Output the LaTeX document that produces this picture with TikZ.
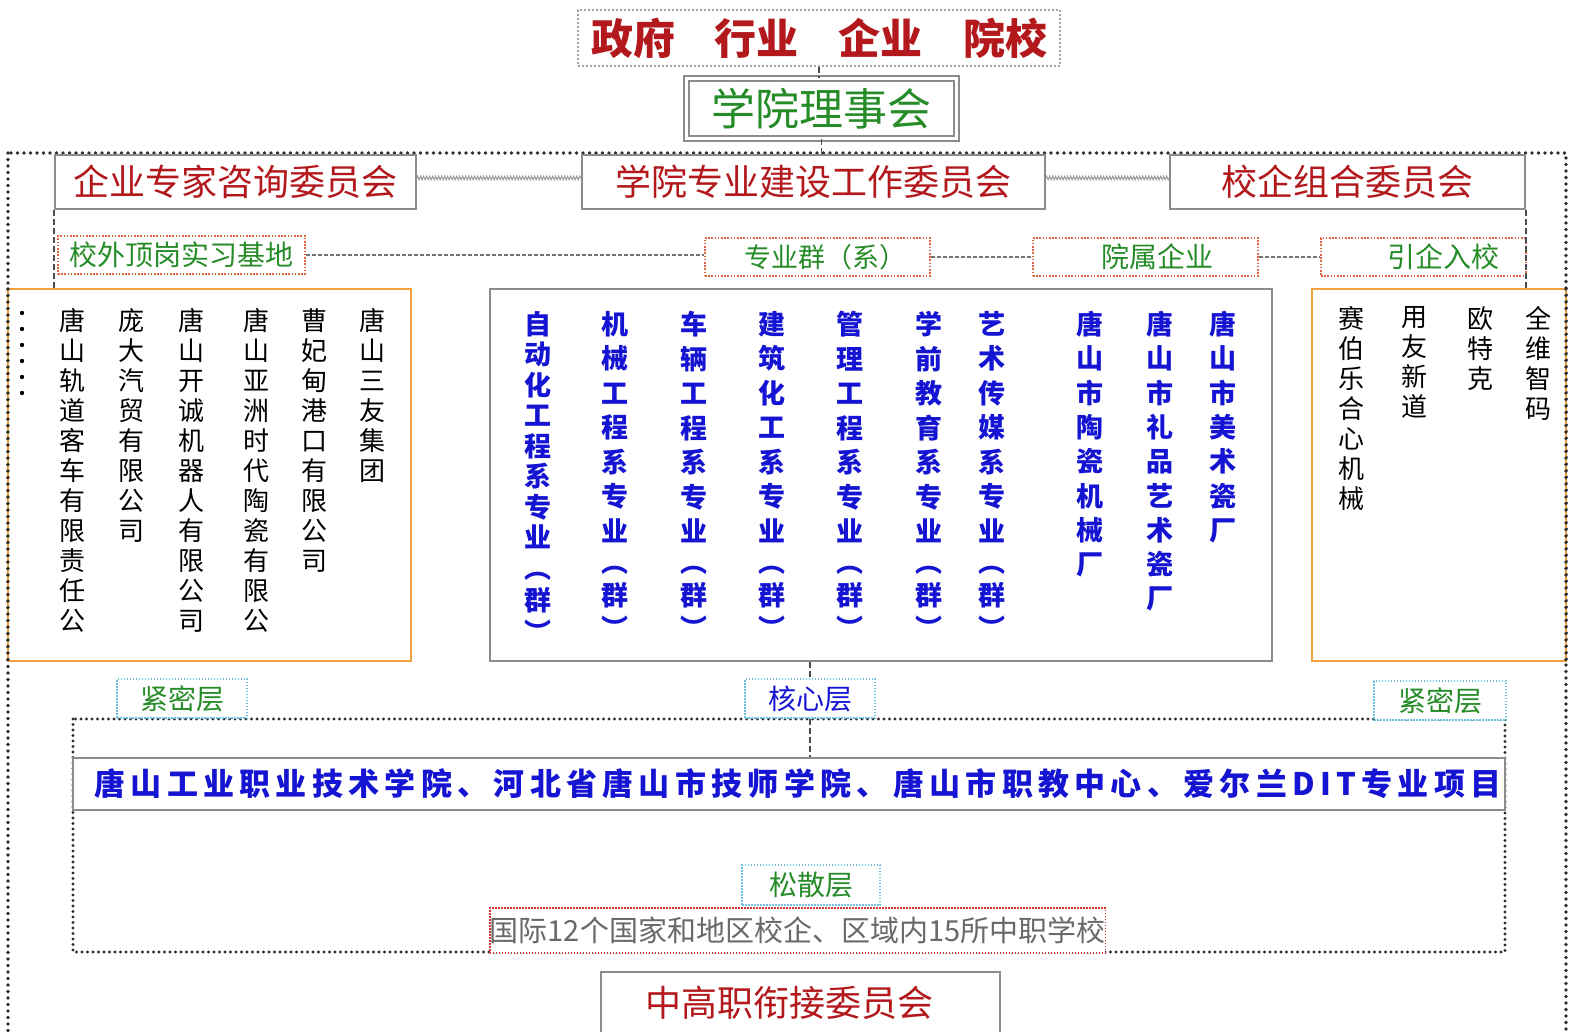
\documentclass[tikz,border=0pt]{standalone}
\usepackage{fontspec}
\setmainfont{Noto Sans CJK SC}
\usetikzlibrary{calc,decorations.pathmorphing}
\definecolor{dred}{RGB}{178,24,28}
\definecolor{dgreen}{RGB}{38,140,40}
\definecolor{dblue}{RGB}{20,20,210}
\definecolor{bgray}{RGB}{140,140,140}
\definecolor{tgray}{RGB}{105,105,105}
\definecolor{orng}{RGB}{240,160,60}
\definecolor{ored}{RGB}{225,100,60}
\definecolor{rdot}{RGB}{215,50,50}
\definecolor{lblue}{RGB}{110,190,225}
\definecolor{dotc}{RGB}{45,45,45}
\newcommand\fs[1]{\fontsize{#1bp}{#1bp}\selectfont}
\makeatletter
\newcommand\vcol[2]{\vbox{\baselineskip=#1\lineskiplimit=-1000pt\relax\@tfor\vc:=#2\do{\hbox to 1.1em{\hss\vc\hss}}}}
\newcommand\spreadtext[2]{\@tfor\vc:=#2\do{\vc\kern#1}\unkern}
\makeatother
\begin{document}
\begin{tikzpicture}[x=1bp,y=-1bp,
  box/.style={draw=bgray,line width=1.8bp,fill=white,inner sep=0pt},
  obox/.style={draw=orng,line width=2bp,fill=white,inner sep=0pt},
  tagbox/.style={draw=ored,line width=1.6bp,dash pattern=on 1.6bp off 1.6bp,fill=white,inner sep=0pt},
  laybox/.style={draw=lblue,line width=1.3bp,dash pattern=on 1.5bp off 1.5bp,fill=white,inner sep=0pt},
  govbox/.style={draw=bgray!80,line width=2bp,dash pattern=on 2bp off 2bp,fill=white,inner sep=0pt},
  bigdot/.style={draw=dotc,line width=3.8bp,dash pattern=on 0pt off 6.5bp,line cap=round},
  smalldot/.style={draw=dotc,line width=3.3bp,dash pattern=on 0pt off 5.5bp,line cap=round},
  vconn/.style={draw=black!70,line width=1.6bp,dash pattern=on 6bp off 3bp},
  hconn/.style={draw=black!55,line width=1.5bp,dash pattern=on 4bp off 2bp},
  zconn/.style={draw=black!40,line width=1bp,decorate,decoration={zigzag,amplitude=1.8bp,segment length=3bp}},
  vt/.style={anchor=north,inner sep=0pt}
]
\useasboundingbox (0,0) rectangle (1576,1031);
\clip (0,0) rectangle (1576,1031);
\fill[white] (0,0) rectangle (1576,1031);

% outer dotted frame
\draw[bigdot] (8,153) rectangle (1566,1060);

% top
\node[govbox,minimum width=482bp,minimum height=56bp] (gov) at (819,38)
  {\fs{42}\bfseries\color{dred}政府\hspace{40bp}行业\hspace{40bp}企业\hspace{40bp}院校};
\node[draw=bgray,double=white,double distance=3.5bp,line width=1.3bp,fill=white,inner sep=0pt,minimum width=270bp,minimum height=60bp] (board) at (821.5,108.5)
  {\fs{44}\color{dgreen}学院理事会};

% committees
\node[box,minimum width=361bp,minimum height=54bp] (ent) at (235.5,182) {\fs{36}\color{dred}企业专家咨询委员会};
\node[box,minimum width=463bp,minimum height=54bp] (work) at (813.5,182) {\fs{36}\color{dred}学院专业建设工作委员会};
\node[box,minimum width=355bp,minimum height=54bp] (combo) at (1347.5,182) {\fs{36}\color{dred}校企组合委员会};

% tag boxes
\node[tagbox,minimum width=247bp,minimum height=38bp] (base) at (181.5,255) {\fs{28}\color{dgreen}校外顶岗实习基地\hspace{19bp}};
\node[tagbox,minimum width=225bp,minimum height=38bp] (grp) at (817.5,257) {\fs{27}\color{dgreen}\hspace{15bp}专业群（系）};
\node[tagbox,minimum width=225bp,minimum height=38bp] (corp) at (1145.5,257) {\fs{28}\color{dgreen}\hspace{23bp}院属企业};
\node[tagbox,minimum width=205bp,minimum height=38bp] (intro) at (1423.5,257) {\fs{28}\color{dgreen}\hspace{40bp}引企入校};

% big boxes
\node[obox,minimum width=403bp,minimum height=372bp] (lbox) at (209.5,475) {};
\node[box,minimum width=782bp,minimum height=372bp] (mbox) at (881,475) {};
\node[obox,minimum width=254bp,minimum height=372bp] (rbox) at (1439,475) {};
\draw[bigdot] (8,289) -- (8,661);
\draw[bigdot] (1566,289) -- (1566,661);

% left box text
\node[vt] (l1) at (372,308) {\fs{26}\vcol{30bp}{唐山三友集团}};
\node[vt] (l2) at (314,308) {\fs{26}\vcol{30bp}{曹妃甸港口有限公司}};
\node[vt] (l3) at (256,308) {\fs{26}\vcol{30bp}{唐山亚洲时代陶瓷有限公}};
\node[vt] (l4) at (191,308) {\fs{26}\vcol{30bp}{唐山开诚机器人有限公司}};
\node[vt] (l5) at (131,308) {\fs{26}\vcol{30bp}{庞大汽贸有限公司}};
\node[vt] (l6) at (72,308) {\fs{26}\vcol{30bp}{唐山轨道客车有限责任公}};
\foreach \yy in {313,329,345,361,377,393} \fill[black] (22,\yy) circle (2.2bp);

% middle box text
\node[vt] (m1) at (538,311) {\fs{27}\bfseries\color{dblue}\vcol{30.5bp}{自动化工程系专业}};
\node[vt] (m2) at (615,311) {\fs{27}\bfseries\color{dblue}\vcol{34.5bp}{机械工程系专业}};
\node[vt] (m3) at (694,311) {\fs{27}\bfseries\color{dblue}\vcol{34.5bp}{车辆工程系专业}};
\node[vt] (m4) at (772,311) {\fs{27}\bfseries\color{dblue}\vcol{34.5bp}{建筑化工系专业}};
\node[vt] (m5) at (850,311) {\fs{27}\bfseries\color{dblue}\vcol{34.5bp}{管理工程系专业}};
\node[vt] (m6) at (929,311) {\fs{27}\bfseries\color{dblue}\vcol{34.5bp}{学前教育系专业}};
\node[vt] (m7) at (992,311) {\fs{27}\bfseries\color{dblue}\vcol{34.5bp}{艺术传媒系专业}};
\node[vt] (b1) at (538,572) {\fs{27}\bfseries\color{dblue}\vcol{32bp}{︵群︶}};
\foreach \xx/\nm in {615/b2,694/b3,772/b4,850/b5,929/b6,992/b7}
  \node[vt] (\nm) at (\xx,566) {\fs{27}\bfseries\color{dblue}\vcol{33bp}{︵群︶}};
\node[vt] (m8) at (1090,311) {\fs{27}\bfseries\color{dblue}\vcol{34.3bp}{唐山市陶瓷机械厂}};
\node[vt] (m9) at (1160,311) {\fs{27}\bfseries\color{dblue}\vcol{34.3bp}{唐山市礼品艺术瓷厂}};
\node[vt] (m10) at (1223,311) {\fs{27}\bfseries\color{dblue}\vcol{34.3bp}{唐山市美术瓷厂}};

% right box text
\node[vt] (r1) at (1538,306) {\fs{26}\vcol{30bp}{全维智码}};
\node[vt] (r2) at (1480,306) {\fs{26}\vcol{30bp}{欧特克}};
\node[vt] (r3) at (1414,306) {\fs{26}\vcol{30bp}{用友新道}};
\node[vt] (r4) at (1351,306) {\fs{26}\vcol{30bp}{赛伯乐合心机械}};

% layers
\draw[smalldot] (73,719) rectangle (1505,952);
\node[laybox,minimum width=130bp,minimum height=39bp] (tight1) at (182,698.5) {\fs{28}\color{dgreen}紧密层};
\node[laybox,minimum width=130bp,minimum height=39bp] (core) at (810,698.5) {\fs{28}\color{dblue}核心层};
\node[laybox,minimum width=132bp,minimum height=39bp] (tight2) at (1440,700.5) {\fs{28}\color{dgreen}紧密层};
\node[box,minimum width=1432bp,minimum height=52bp] (schools) at (789,784)
  {\fs{31}\bfseries\color{dblue}\hspace{18bp}\spreadtext{5.3bp}{唐山工业职业技术学院、河北省唐山市技师学院、唐山市职教中心、爱尔兰DIT专业项目}};
\node[laybox,minimum width=138bp,minimum height=40bp] (loose) at (811,885) {\fs{28}\color{dgreen}松散层};
\node[draw=rdot,line width=1.4bp,dash pattern=on 1.5bp off 1.5bp,fill=white,inner sep=0pt,minimum width=613bp,minimum height=45bp] (intl) at (797.5,930.5)
  {\fs{29}\color{tgray}国际12个国家和地区校企、区域内15所中职学校};
\node[box,minimum width=399bp,minimum height=96bp] (mid) at (800.5,1020) {};
\node[inner sep=0pt] (midlbl) at (789,1003) {\fs{36}\color{dred}中高职衔接委员会};

% connectors
\draw[vconn] (gov.south) -- (gov.south |- board.north);
\draw[vconn] (board.south) -- (board.south |- work.north);
\draw[vconn] ($(work.south)+(6,0)$) -- ($(work.south)+(6,0)$ |- grp.north);
\draw[vconn] ($(grp.south)+(2,0)$) -- ($(grp.south)+(2,0)$ |- mbox.north);
\draw[vconn] (ent.south west) -- (ent.south west |- lbox.north);
\draw[vconn] ($(combo.south west)+(43,0)$) -- ($(combo.south west)+(43,0)$ |- corp.north);
\draw[vconn] (combo.south east) -- (combo.south east |- rbox.north);
\draw[vconn] ($(corp.south)+(5,0)$) -- ($(corp.south)+(5,0)$ |- mbox.north);
\draw[vconn] ($(lbox.south)+(-26,0)$) -- ($(lbox.south)+(-26,0)$ |- tight1.north);
\draw[vconn] (core.north |- mbox.south) -- (core.north);
\draw[vconn] ($(rbox.south)+(3,0)$) -- ($(rbox.south)+(3,0)$ |- tight2.north);
\draw[vconn] (core.south) -- (core.south |- schools.north);
\draw[zconn] ($(ent.east)+(0,-4)$) -- ($(work.west)+(0,-4)$);
\draw[zconn] ($(work.east)+(0,-4)$) -- ($(combo.west)+(0,-4)$);
\draw[hconn] (base.east) -- (base.east -| grp.west);
\draw[hconn] (grp.east) -- (grp.east -| corp.west);
\draw[hconn] (corp.east) -- (corp.east -| intro.west);
\draw[hconn] ($(tight1.east)+(0,-4)$) -- ($(tight1.east)+(0,-4)$ -| core.west);
\draw[hconn] ($(core.east)+(0,-4)$) -- ($(core.east)+(0,-4)$ -| tight2.west);
\end{tikzpicture}
\end{document}
